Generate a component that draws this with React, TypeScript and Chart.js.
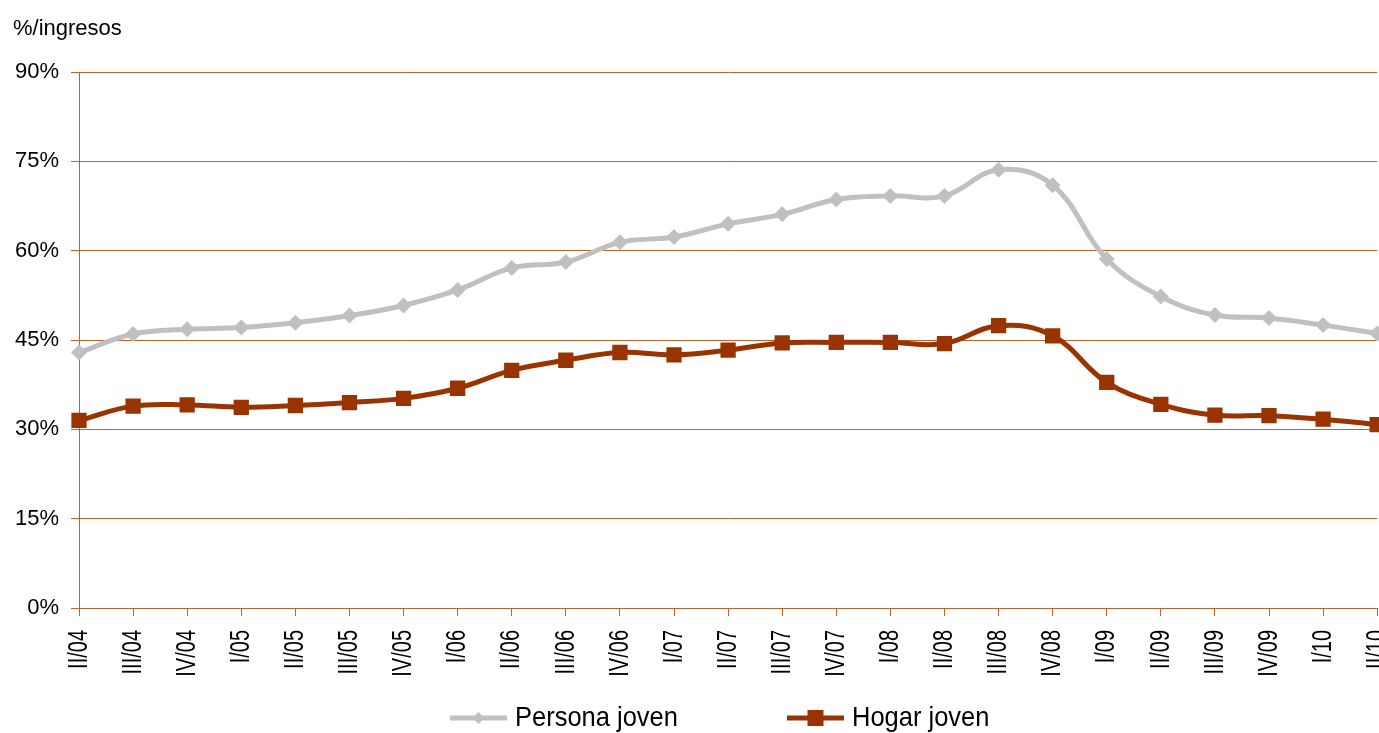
import React, { useEffect, useRef } from "react";
import { Chart, registerables } from "chart.js";

Chart.register(...registerables);

const categories = [
  "II/04", "III/04", "IV/04", "I/05", "II/05", "III/05", "IV/05",
  "I/06", "II/06", "III/06", "IV/06", "I/07", "II/07", "III/07", "IV/07",
  "I/08", "II/08", "III/08", "IV/08", "I/09", "II/09", "III/09", "IV/09",
  "I/10", "II/10",
];

const personaJoven = [
  42.9, 46.0, 46.8, 47.1, 47.9, 49.1, 50.8, 53.4, 57.1, 58.1, 61.4, 62.3, 64.5,
  66.1, 68.6, 69.2, 69.2, 73.6, 71.0, 58.6, 52.3, 49.2, 48.7, 47.5, 46.1,
];

const hogarJoven = [
  31.5, 33.9, 34.1, 33.7, 34.0, 34.5, 35.2, 36.9, 39.9, 41.6, 42.9, 42.5, 43.3,
  44.5, 44.6, 44.6, 44.4, 47.4, 45.7, 37.9, 34.2, 32.4, 32.3, 31.7, 30.8,
];

const yTicks = [0, 15, 30, 45, 60, 75, 90];

const seriesNames = ["Persona joven", "Hogar joven"];
const axisTitle = "%/ingresos";

const GRID = "#C0602E";
const GREY = "#C0C0C0";
const BROWN = "#993300";
const FONT = "'Liberation Sans', Arial, sans-serif";

const overlay = {
  id: "overlay",
  afterDraw(chart: any) {
    const ctx = chart.ctx;
    ctx.save();
    ctx.fillStyle = "#000";
    ctx.font = `22px ${FONT}`;
    ctx.textBaseline = "middle";
    ctx.textAlign = "left";
    ctx.fillText(axisTitle, 13, 29);

    // x tick labels (rotated, stretched across)
    const xs = chart.scales.x;
    ctx.font = `20px ${FONT}`;
    ctx.textAlign = "right";
    ctx.textBaseline = "middle";
    categories.forEach((lab, i) => {
      const x = xs.getPixelForTick(i);
      ctx.save();
      ctx.translate(x, 630);
      ctx.rotate(-Math.PI / 2);
      ctx.scale(1, 1.4);
      ctx.fillText(lab, 0, 0);
      ctx.restore();
    });

    // legend
    const ly = 718;
    const items = [
      { x: 450, color: GREY, style: "rectRot" },
      { x: 787, color: BROWN, style: "rect" },
    ];
    items.forEach((it, i) => {
      ctx.strokeStyle = it.color;
      ctx.lineWidth = 5;
      ctx.beginPath();
      ctx.moveTo(it.x, ly);
      ctx.lineTo(it.x + 57, ly);
      ctx.stroke();
      ctx.fillStyle = it.color;
      const cx = it.x + 28.5;
      ctx.beginPath();
      if (it.style === "rect") {
        ctx.rect(cx - 8, ly - 8, 16, 16);
      } else {
        ctx.moveTo(cx - 6, ly);
        ctx.lineTo(cx, ly - 6);
        ctx.lineTo(cx + 6, ly);
        ctx.lineTo(cx, ly + 6);
        ctx.closePath();
      }
      ctx.fill();
      ctx.fillStyle = "#000";
      ctx.font = `28px ${FONT}`;
      ctx.textAlign = "left";
      ctx.textBaseline = "middle";
      ctx.save();
      ctx.translate(it.x + 65, ly);
      ctx.scale(0.91, 1);
      ctx.fillText(seriesNames[i], 0, 0);
      ctx.restore();
    });
    ctx.restore();
  },
};

export default function App() {
  const ref = useRef<HTMLCanvasElement>(null);
  useEffect(() => {
    if (!ref.current) return;
    const chart = new Chart(ref.current, {
      type: "line",
      data: {
        labels: categories,
        datasets: [
          {
            label: seriesNames[0],
            data: personaJoven,
            borderColor: GREY,
            backgroundColor: GREY,
            borderWidth: 5,
            pointStyle: "rectRot",
            pointRadius: 8,
            pointBorderWidth: 0,
            pointBackgroundColor: GREY,
            tension: 0.4,
          },
          {
            label: seriesNames[1],
            data: hogarJoven,
            borderColor: BROWN,
            backgroundColor: BROWN,
            borderWidth: 5,
            pointStyle: "rect",
            pointRadius: 10.8,
            pointBorderWidth: 0,
            pointBackgroundColor: BROWN,
            tension: 0.4,
          },
        ],
      },
      options: {
        responsive: false,
        animation: false,
        layout: { padding: { top: 72, right: 0, left: 0, bottom: 0 } },
        plugins: {
          legend: { display: false },
          tooltip: { enabled: false },
        },
        scales: {
          x: {
            offset: false,
            grid: {
              drawOnChartArea: false,
              drawTicks: true,
              tickLength: 8,
              color: GRID,
              lineWidth: 1,
            },
            border: { color: GRID, width: 1 },
            ticks: {
              display: false,
              autoSkip: false,
            },
            afterFit(scale: any) {
              scale.height = 125;
              scale.paddingLeft = 0;
              scale.paddingRight = 0;
            },
          },
          y: {
            min: 0,
            max: 90,
            afterBuildTicks(scale: any) {
              scale.ticks = yTicks.map((v) => ({ value: v }));
            },
            grid: {
              color: GRID,
              lineWidth: 1,
              tickLength: 8,
            },
            border: { color: GRID, width: 1 },
            ticks: {
              color: "#000",
              font: { family: FONT, size: 22 },
              padding: 12,
              callback: (v: any) => `${v}%`,
            },
            afterFit(scale: any) {
              scale.width = 79;
            },
          },
        },
      },
      plugins: [overlay],
    });
    return () => chart.destroy();
  }, []);
  return (
    <canvas
      ref={ref}
      width={1388}
      height={733}
      style={{ position: "fixed", left: 0, top: 0, display: "block" }}
    />
  );
}
